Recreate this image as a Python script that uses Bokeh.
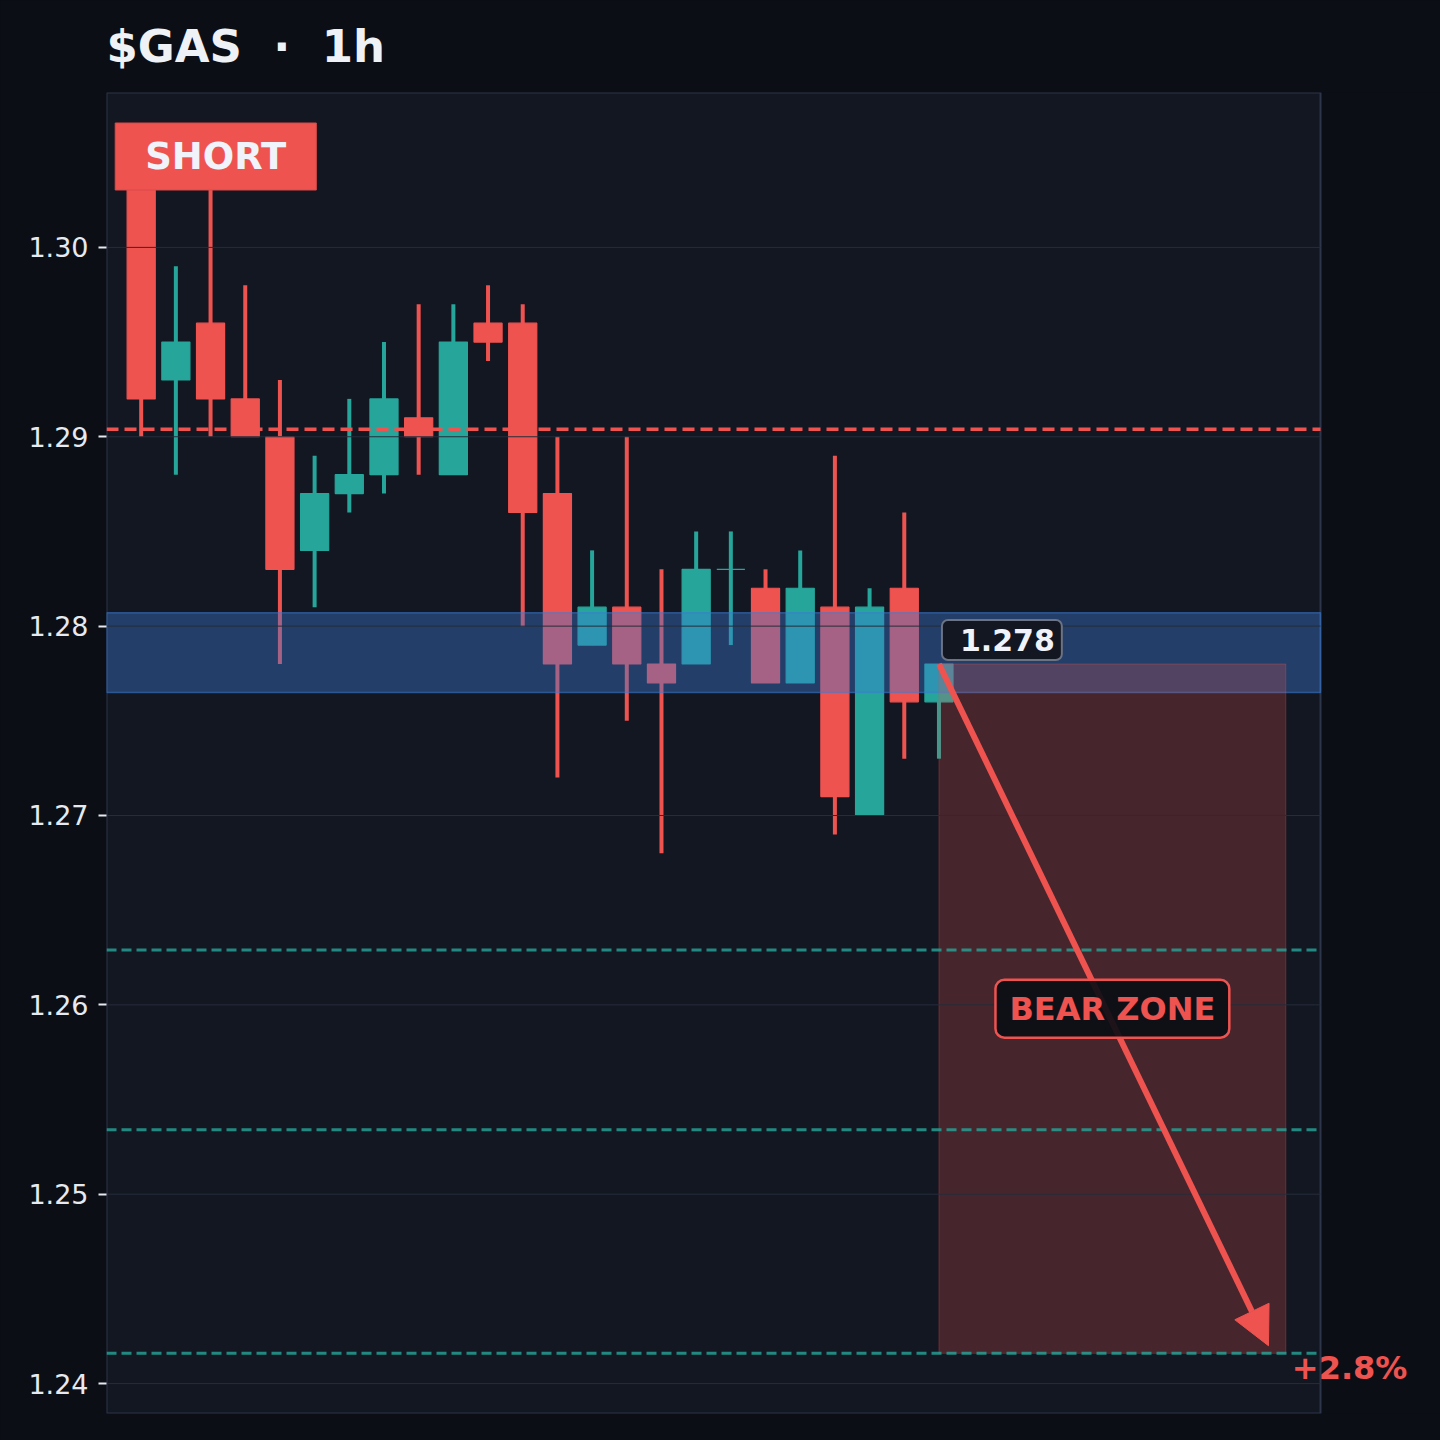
from bokeh.plotting import figure
from bokeh.models import (Range1d, FixedTicker, PrintfTickFormatter, Label, Arrow,
                          NormalHead, ColumnDataSource)
from bokeh.embed import file_html
from bokeh.resources import INLINE

# ---- data -------------------------------------------------------------
candle_idx = list(range(24))
opens  = [1.305, 1.293, 1.296, 1.292, 1.290, 1.284, 1.287, 1.288, 1.291, 1.288, 1.296, 1.296,
          1.287, 1.279, 1.281, 1.278, 1.278, 1.283, 1.282, 1.277, 1.281, 1.270, 1.282, 1.276]
highs  = [1.306, 1.299, 1.304, 1.298, 1.293, 1.289, 1.292, 1.295, 1.297, 1.297, 1.298, 1.297,
          1.290, 1.284, 1.290, 1.283, 1.285, 1.285, 1.283, 1.284, 1.289, 1.282, 1.286, 1.278]
lows   = [1.290, 1.288, 1.290, 1.290, 1.278, 1.281, 1.286, 1.287, 1.288, 1.288, 1.294, 1.280,
          1.272, 1.279, 1.275, 1.268, 1.278, 1.279, 1.277, 1.277, 1.269, 1.270, 1.273, 1.273]
closes = [1.292, 1.295, 1.292, 1.290, 1.283, 1.287, 1.288, 1.292, 1.290, 1.295, 1.295, 1.286,
          1.278, 1.281, 1.278, 1.277, 1.283, 1.283, 1.277, 1.282, 1.271, 1.281, 1.276, 1.278]

y_ticks = [1.24, 1.25, 1.26, 1.27, 1.28, 1.29, 1.30]
x_limits = [-1, 34]
y_limits = [1.23842, 1.30818]

short_level = 1.2904                        # red dashed line
target_levels = [1.2629, 1.2534, 1.2416]    # teal dashed lines
zone_low, zone_high = 1.2765, 1.2807        # blue band
entry_x, entry_price = 23, 1.278
zone_end_x = 33
target_price = 1.2416
arrow_end = (32.5, 1.2420)
short_label_pos = (2.15, 1.3048)
title_text = "$GAS \u00a0\u00b7\u00a0 1h"
entry_text = "1.278"
zone_text = "BEAR ZONE"
pct_text = "+2.8%"

RED = "#ef5350"
GREEN = "#26a69a"
BG = "#131722"
OUTER = "#0b0e14"
TXT = "#eef1f6"
FONT = "DejaVu Sans"

# layout: plot area 1214 px wide; the frame continues to the right page edge so the
# percentage label that sticks out of the plot area stays visible
W, H = 1440, 1440
LEFT, TOP, BOTTOM = 106, 92, 27
area_px = 1214
frame_px = W - LEFT
x_view_end = x_limits[0] + (x_limits[1] - x_limits[0]) * frame_px / area_px

inc = [c >= o for o, c in zip(opens, closes)]
src = ColumnDataSource(dict(
    x=candle_idx, high=highs, low=lows,
    top=[max(o, c) for o, c in zip(opens, closes)],
    bottom=[min(o, c) for o, c in zip(opens, closes)],
    color=[GREEN if i else RED for i in inc],
))

p = figure(width=W, height=H, output_backend="svg", toolbar_location=None,
           x_range=Range1d(x_limits[0], x_view_end), y_range=Range1d(*y_limits),
           min_border_left=LEFT, min_border_right=0, min_border_top=TOP,
           min_border_bottom=BOTTOM)

p.background_fill_color = OUTER
p.border_fill_color = OUTER
p.outline_line_color = None

p.title.text = title_text
p.title.text_font = FONT
p.title.text_font_size = "45px"
p.title.text_font_style = "bold"
p.title.text_color = TXT
p.title.vertical_align = "top"
p.title.standoff = 36

p.xaxis.visible = False
p.xgrid.visible = False
p.ygrid.visible = False

ax = p.yaxis[0]
ax.ticker = FixedTicker(ticks=y_ticks)
ax.formatter = PrintfTickFormatter(format="%.2f")
ax.major_label_text_font = FONT
ax.major_label_text_font_size = "27px"
ax.major_label_text_color = "#e6e9ef"
ax.major_tick_line_color = "#e6e9ef"
ax.major_tick_line_width = 2
ax.major_tick_out = 8
ax.major_tick_in = 0
ax.minor_tick_line_color = None
ax.axis_line_color = None
ax.major_label_standoff = 10

# plot area
p.quad(left=x_limits[0], right=x_limits[1], bottom=y_limits[0], top=y_limits[1],
       fill_color=BG, line_color="#2c3549", line_width=2)

# candles
p.segment(x0="x", x1="x", y0="low", y1="high", line_color="color", line_width=4, source=src)
p.vbar(x="x", top="top", bottom="bottom", width=0.81, fill_color="color",
       line_color="color", line_width=1.2, source=src)

# blue band
p.quad(left=x_limits[0], right=x_limits[1], bottom=zone_low, top=zone_high,
       fill_color="#3a7bd5", fill_alpha=0.4, line_color="#3a7bd5", line_alpha=0.55,
       line_width=1.5)
# bear zone
p.quad(left=entry_x, right=zone_end_x, bottom=target_price, top=entry_price,
       fill_color=RED, fill_alpha=0.24, line_color=RED, line_alpha=0.3, line_width=1)

# grid lines (drawn over the candles)
n = len(y_ticks)
p.segment(x0=[x_limits[0]] * n, x1=[x_limits[1]] * n, y0=y_ticks, y1=y_ticks,
          line_color="#262d3b", line_width=1)

# levels
p.segment(x0=[x_limits[0]], x1=[x_limits[1]], y0=[short_level], y1=[short_level],
          line_color=RED, line_width=3.5, line_dash="12 6")
m = len(target_levels)
p.segment(x0=[x_limits[0]] * m, x1=[x_limits[1]] * m, y0=target_levels, y1=target_levels,
          line_color=GREEN, line_alpha=0.8, line_width=3, line_dash="10 5")

# arrow
p.add_layout(Arrow(x_start=entry_x, y_start=entry_price, x_end=arrow_end[0], y_end=arrow_end[1],
                   line_color=RED, line_width=6,
                   end=NormalHead(size=38, fill_color=RED, line_color=RED, line_width=1)))

# labels
p.add_layout(Label(x=short_label_pos[0], y=short_label_pos[1], text="SHORT",
                   text_font=FONT, text_font_size="37px", text_font_style="bold",
                   text_color="#f0f3fa", text_align="center", text_baseline="middle",
                   background_fill_color=RED, background_fill_alpha=1.0,
                   border_line_color="#d84a48", border_line_width=1,
                   padding=dict(left=30, right=30, top=12, bottom=12)))

p.add_layout(Label(x=entry_x, y=entry_price, x_offset=3, y_offset=24, text=entry_text,
                   text_font=FONT, text_font_size="30px", text_font_style="bold",
                   text_color="#f0f3fa", text_align="left", text_baseline="middle",
                   background_fill_color=BG, background_fill_alpha=1.0,
                   border_line_color="#6b7384", border_line_width=2, border_radius=6,
                   padding=dict(left=18, right=7, top=9, bottom=9)))

p.add_layout(Label(x=(entry_x + zone_end_x) / 2, y=(entry_price + target_price) / 2,
                   text=zone_text, text_font=FONT, text_font_size="32px",
                   text_font_style="bold", text_color=RED, text_align="center",
                   text_baseline="middle", background_fill_color="#0b0e15",
                   background_fill_alpha=0.92, border_line_color=RED, border_line_width=2.5,
                   border_radius=9, padding=dict(left=14, right=14, top=10, bottom=10)))

p.add_layout(Label(x=zone_end_x, y=target_price, x_offset=6, y_offset=-15, text=pct_text,
                   text_font=FONT, text_font_size="32px", text_font_style="bold",
                   text_color=RED, text_align="left", text_baseline="middle"))

html = file_html(p, INLINE)
html = html.replace("</head>", "<style>body{background:%s;}</style></head>" % OUTER, 1)
open("out.html", "w").write(html)
